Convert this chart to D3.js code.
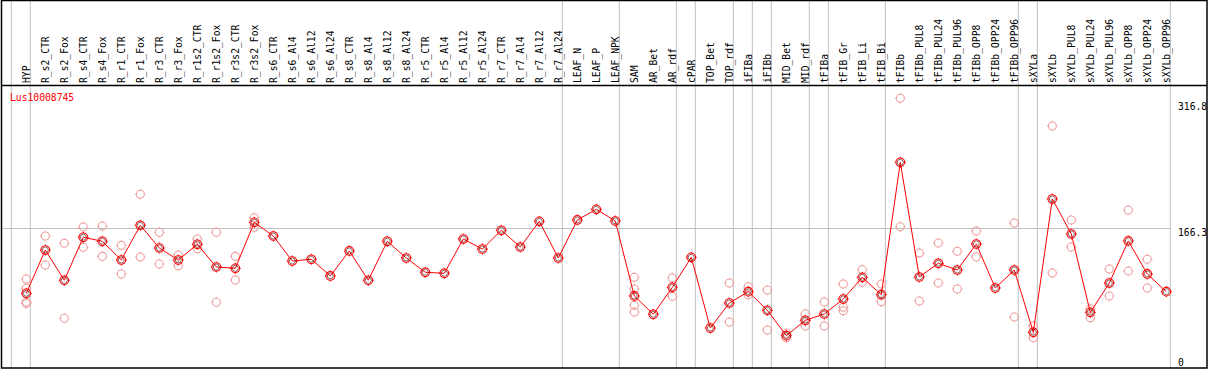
<!DOCTYPE html>
<html lang="en">
<head>
  <meta charset="UTF-8">
  <script src="https://d3js.org/d3.v7.min.js" charset="utf-8"></script>
  <title>Lus10008745</title>
  <style>
    body { margin: 0; background: #fff; }
    text { font-family: "DejaVu Sans Mono", monospace; font-size: 9.7px; }
  </style>
</head>
<body>
  <script type="text/javascript">

    var geneName = "Lus10008745";

    var samples = ["HYP", "R_s2_CTR", "R_s2_Fox", "R_s4_CTR", "R_s4_Fox", "R_r1_CTR", "R_r1_Fox",
      "R_r3_CTR", "R_r3_Fox", "R_r1s2_CTR", "R_r1s2_Fox", "R_r3s2_CTR", "R_r3s2_Fox",
      "R_s6_CTR", "R_s6_Al4", "R_s6_Al12", "R_s6_Al24", "R_s8_CTR", "R_s8_Al4", "R_s8_Al12", "R_s8_Al24",
      "R_r5_CTR", "R_r5_Al4", "R_r5_Al12", "R_r5_Al24", "R_r7_CTR", "R_r7_Al4", "R_r7_Al12", "R_r7_Al24",
      "LEAF_N", "LEAF_P", "LEAF_NPK", "SAM", "AR_Bet", "AR_rdf", "cPAR", "TOP_Bet", "TOP_rdf",
      "iFIBa", "iFIBb", "MID_Bet", "MID_rdf", "tFIBa", "tFIB_Gr", "tFIB_Li", "tFIB_Bi",
      "tFIBb", "tFIBb_PUL8", "tFIBb_PUL24", "tFIBb_PUL96", "tFIBb_OPP8", "tFIBb_OPP24", "tFIBb_OPP96",
      "sXYLa", "sXYLb", "sXYLb_PUL8", "sXYLb_PUL24", "sXYLb_PUL96", "sXYLb_OPP8", "sXYLb_OPP24", "sXYLb_OPP96"];

    // mean expression per sample
    var means = [89.0, 140.5, 104.5, 155.7, 150.9, 128.6, 170.0,
      142.9, 128.6, 147.3, 120.3, 118.7, 173.5,
      157.2, 127.4, 129.5, 109.6, 139.4, 104.5, 150.9, 131.0,
      114.0, 112.8, 153.6, 141.7, 164.0, 144.1, 174.7, 131.0,
      176.3, 189.0, 175.1, 85.8, 64.0, 96.1, 131.8, 47.6, 77.4,
      90.9, 68.7, 38.5, 56.8, 64.3, 82.2, 108.0, 87.3,
      245.0, 108.4, 124.7, 116.7, 147.7, 95.3, 116.7,
      42.5, 201.3, 159.6, 66.3, 101.2, 151.3, 112.0, 90.9];

    // individual replicates per sample (empty where none is drawn)
    var replicates = [[106.0, 95.0, 78.6, 76.8], [157.2, 122.7], [148.5, 59.2], [167.9, 143.8], [169.1, 133.0],
      [146.1, 112.0], [206.9, 132.2], [161.6, 123.9], [134.6, 121.8], [153.6, 142.1], [161.6, 78.3],
      [133.0, 104.8], [179.0, 167.6],
      [], [], [], [], [], [], [], [], [], [], [], [], [], [], [], [],
      [], [], [], [108.0, 94.1, 74.7, 66.7], [], [107.2, 85.4], [], [], [101.2, 54.8],
      [96.8, 87.3], [92.9, 45.3], [41.3, 36.1], [64.3, 50.0], [78.6, 50.0], [100.0, 72.3, 68.2],
      [117.1, 102.1], [100.0, 79.0],
      [321.2, 168.3], [137.0, 79.8], [148.9, 101.2], [139.0, 94.1], [163.2, 132.2], [], [172.7, 60.7],
      [50.0, 36.1], [288.2, 113.1], [176.3, 144.1], [70.6, 59.9], [117.9, 85.8], [188.2, 115.5],
      [129.5, 95.3], []];

    // group separators drawn after these sample indices
    var separators = [-1, 0, 28, 31, 34, 35, 37, 38, 39, 41, 42, 45, 52, 53, 60];

    var yTicks = [0, 166.3, 316.8];
    var yMax = 316.8;

    var W = 1209, H = 370;
    var headerBottom = 85, plotBottom = 368, frameRight = 1207;

    var svg = d3.select("body").append("svg")
      .attr("width", W)
      .attr("height", H);

    var xScale = d3.scaleLinear()
      .domain([0, samples.length - 1])
      .range([26.3, 1166.3]);
    var yScale = d3.scaleLinear()
      .domain([0, yMax])
      .range([plotBottom, 102]);

    // gray separators through header and plot
    svg.selectAll("line.sep")
      .data(separators)
      .enter()
      .append("line")
      .attr("class", "sep")
      .attr("x1", function (d) { return xScale(d) + 4; })
      .attr("x2", function (d) { return xScale(d) + 4; })
      .attr("y1", 0)
      .attr("y2", plotBottom)
      .attr("stroke", "#c0c0c0")
      .attr("stroke-width", 1);

    // horizontal reference line
    svg.append("line")
      .attr("x1", 1)
      .attr("x2", xScale(60) + 4)
      .attr("y1", Math.round(yScale(yTicks[1])) + 0.5)
      .attr("y2", Math.round(yScale(yTicks[1])) + 0.5)
      .attr("stroke", "#c0c0c0");

    // frame
    svg.append("rect")
      .attr("x", 1.5).attr("y", 0.5)
      .attr("width", frameRight - 1.5).attr("height", plotBottom - 0.5)
      .attr("fill", "none")
      .attr("stroke", "#000")
      .attr("stroke-width", 1.5);
    svg.append("line")
      .attr("x1", 1).attr("x2", frameRight)
      .attr("y1", headerBottom + 0.5).attr("y2", headerBottom + 0.5)
      .attr("stroke", "#000")
      .attr("stroke-width", 1.5);

    // sample labels
    svg.selectAll("text.sample")
      .data(samples)
      .enter()
      .append("text")
      .attr("class", "sample")
      .attr("transform", function (d, i) {
        return "translate(" + (xScale(i) + 3.5) + "," + (headerBottom - 2) + ") rotate(-90)";
      })
      .attr("fill", "#000")
      .text(function (d) { return d; });

    // marker with little ticks
    function marker(g, x, y, color, r) {
      g.append("circle")
        .attr("cx", x).attr("cy", y).attr("r", r)
        .attr("fill", "none")
        .attr("stroke", color)
        .attr("stroke-width", 1.1);
      [[0, -1], [0, 1], [-1, 0], [1, 0]].forEach(function (v) {
        g.append("line")
          .attr("x1", x + v[0] * r).attr("y1", y + v[1] * r)
          .attr("x2", x + v[0] * (r + 1.2)).attr("y2", y + v[1] * (r + 1.2))
          .attr("stroke", color)
          .attr("stroke-width", 1);
      });
    }

    var repG = svg.append("g");
    replicates.forEach(function (reps, i) {
      reps.forEach(function (v) {
        marker(repG, xScale(i), yScale(v), "#f0a0a0", 4);
      });
    });

    var line = d3.line()
      .x(function (d, i) { return xScale(i); })
      .y(function (d) { return yScale(d); });
    svg.append("path")
      .datum(means)
      .attr("d", line)
      .attr("fill", "none")
      .attr("stroke", "#ff0000")
      .attr("stroke-width", 1);

    var meanG = svg.append("g");
    means.forEach(function (v, i) {
      marker(meanG, xScale(i), yScale(v), "#ff0000", 4.3);
      meanG.append("circle")
        .attr("cx", xScale(i)).attr("cy", yScale(v)).attr("r", 3)
        .attr("fill", "none")
        .attr("stroke", "#400")
        .attr("stroke-width", 0.6);
    });

    // gene name
    svg.append("text")
      .attr("x", 10)
      .attr("y", 101)
      .attr("fill", "#ff0000")
      .text(geneName);

    // right-hand value labels
    svg.selectAll("text.val")
      .data(yTicks)
      .enter()
      .append("text")
      .attr("class", "val")
      .attr("x", 1178)
      .attr("y", function (d) { return Math.min(yScale(d) + 8, plotBottom - 2); })
      .attr("fill", "#000")
      .text(function (d) { return d === 0 ? "0" : d.toFixed(1); });

  </script>
</body>
</html>
